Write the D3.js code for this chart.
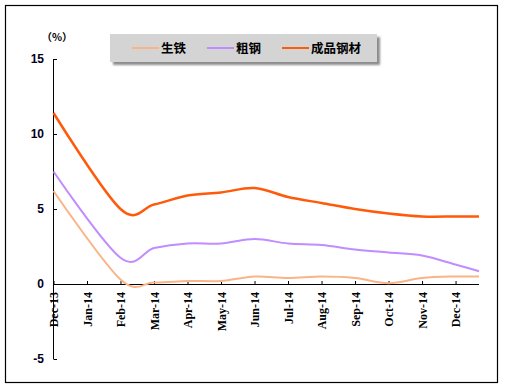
<!DOCTYPE html>
<html>
<head>
<meta charset="utf-8">
<script src="https://cdn.jsdelivr.net/npm/d3@7"></script>
<style>
  body { margin: 0; background: #fff; }
  svg { display: block; }
</style>
</head>
<body>
<div id="graph"></div>
<script>
//Size of the page.
let w = 505
let h = 389

//Month labels on the x axis, one per tick.
let months = ["Dec-13", "Jan-14", "Feb-14", "Mar-14", "Apr-14", "May-14", "Jun-14",
              "Jul-14", "Aug-14", "Sep-14", "Oct-14", "Nov-14", "Dec-14"]

//Position of each data point in months since Dec-13.
//Jan and Feb are reported together, so there is no Jan point; the last one is late Dec-14.
let pointIdx = [0, 2, 3, 4, 5, 6, 7, 8, 9, 10, 11, 12, 12.7]

//Series values (%).
let pigIron = [6.2, 0.3, 0.1, 0.2, 0.2, 0.5, 0.4, 0.5, 0.4, 0.05, 0.4, 0.5, 0.5]
let crudeSteel = [7.5, 1.75, 2.4, 2.7, 2.7, 3.0, 2.7, 2.6, 2.3, 2.1, 1.9, 1.3, 0.85]
let finishedSteel = [11.4, 5.0, 5.3, 5.9, 6.1, 6.4, 5.8, 5.4, 5.0, 4.7, 4.5, 4.5, 4.5]

//Y axis tick values.
let yTicks = [-5, 0, 5, 10, 15]

//Series names and colours for the legend.
let seriesNames = ["生铁", "粗钢", "成品钢材"]
let seriesColors = ["#fab487", "#c08cff", "#ff5a0a"]
let seriesWidths = [2, 2, 2.5]

const svg = d3.select("#graph")
              .append("svg")
              .attr("width", w)
              .attr("height", h)

//Outer frame.
svg.append("rect")
   .attr("x", 5.5).attr("y", 5.5)
   .attr("width", 492).attr("height", 377)
   .attr("fill", "#fff")
   .attr("stroke", "#000")
   .attr("stroke-width", 1.2)

//Scales.
let x = d3.scaleLinear().domain([0, 12.7]).range([53.5, 479])
let y = d3.scaleLinear().domain([-5, 15]).range([359, 59])

//Y axis: line, inward ticks, bold labels.
const yAxis = svg.append("g")
yAxis.append("line")
     .attr("x1", x(0)).attr("x2", x(0))
     .attr("y1", y(15)).attr("y2", y(-5))
     .attr("stroke", "#000")
yAxis.selectAll(".ytick")
     .data(yTicks)
     .enter()
     .append("line")
     .attr("x1", x(0)).attr("x2", x(0) + 3.5)
     .attr("y1", d => y(d) + 0.5).attr("y2", d => y(d) + 0.5)
     .attr("stroke", "#000")
yAxis.selectAll("text")
     .data(yTicks)
     .enter()
     .append("text")
     .attr("x", 44)
     .attr("y", d => y(d))
     .attr("dy", "0.36em")
     .attr("text-anchor", "end")
     .style("font", "bold 12px 'Liberation Sans', Arial, sans-serif")
     .attr("fill", "#000020")
     .text(d => d)

//Unit label.
svg.append("text")
   .attr("x", 57).attr("y", 37)
   .attr("dy", "0.36em")
   .attr("text-anchor", "middle")
   .style("font", "bold 10.5px 'Noto Sans CJK SC', sans-serif")
   .text("（%）")

//X axis at zero with inward ticks and rotated month labels.
const xAxis = svg.append("g")
xAxis.append("line")
     .attr("x1", x(0)).attr("x2", x(12.7))
     .attr("y1", y(0) + 0.5).attr("y2", y(0) + 0.5)
     .attr("stroke", "#000")
xAxis.selectAll(".xtick")
     .data(months)
     .enter()
     .append("line")
     .attr("x1", (d, i) => x(i) + 0.5).attr("x2", (d, i) => x(i) + 0.5)
     .attr("y1", y(0) - 3).attr("y2", y(0))
     .attr("stroke", "#000")
xAxis.selectAll("text")
     .data(months)
     .enter()
     .append("text")
     .attr("transform", (d, i) => "translate(" + (x(i) + 0.5) + "," + 292 + ") rotate(-90)")
     .attr("dy", "0.35em")
     .attr("text-anchor", "end")
     .style("font", "bold 12px 'Liberation Serif', 'Times New Roman', serif")
     .text(d => d)

//Smoothed lines (uniform Catmull-Rom, like the spreadsheet's smoothing).
let line = d3.line()
             .x((d, i) => x(pointIdx[i]))
             .y(d => y(d))
             .curve(d3.curveCatmullRom.alpha(0))

let allSeries = [pigIron, crudeSteel, finishedSteel]
svg.selectAll(".series")
   .data(allSeries)
   .enter()
   .append("path")
   .attr("d", d => line(d))
   .attr("fill", "none")
   .attr("stroke", (d, i) => seriesColors[i])
   .attr("stroke-width", (d, i) => seriesWidths[i])
   .attr("stroke-linejoin", "round")

//Legend box with drop shadow.
const defs = svg.append("defs")
defs.append("filter")
    .attr("id", "blur")
    .append("feGaussianBlur")
    .attr("stdDeviation", 1.2)

svg.append("rect")
   .attr("x", 113).attr("y", 37)
   .attr("width", 267).attr("height", 28)
   .attr("fill", "#8c8c8c")
   .attr("filter", "url(#blur)")
svg.append("rect")
   .attr("x", 110).attr("y", 34)
   .attr("width", 267).attr("height", 28)
   .attr("fill", "#d4d4d4")

let legendX = [132, 207, 282]
const legend = svg.selectAll(".legend")
                  .data(seriesNames)
                  .enter()
                  .append("g")
                  .attr("transform", (d, i) => "translate(" + legendX[i] + ",48)")
legend.append("line")
      .attr("x1", 0).attr("x2", 27)
      .attr("y1", 0).attr("y2", 0)
      .attr("stroke", (d, i) => seriesColors[i])
      .attr("stroke-width", 2)
legend.append("text")
      .attr("x", 29)
      .attr("y", 0)
      .attr("dy", "0.36em")
      .style("font", "bold 12.5px 'Noto Sans CJK SC', sans-serif")
      .text(d => d)
</script>
</body>
</html>
